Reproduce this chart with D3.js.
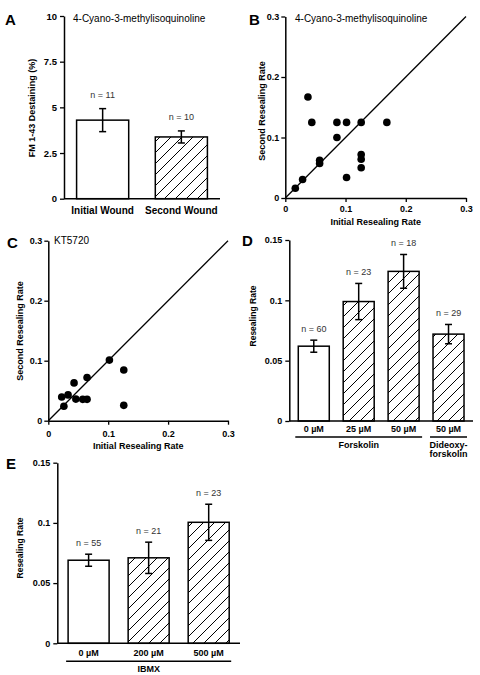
<!DOCTYPE html>
<html><head><meta charset="utf-8">
<script src="https://cdn.jsdelivr.net/npm/d3@7"></script>
<style>
body{margin:0;background:#fff;}
svg{display:block;font-family:"Liberation Sans",Arial,sans-serif;}
</style></head>
<body>
<svg id="chart" width="480" height="675"></svg>
<script>
// ---------- Data ----------
// Panel A
const aCategories = ["Initial Wound", "Second Wound"];
const aMeans = [4.3, 3.38];
const aErrors = [0.63, 0.33];
const aN = [11, 10];
const aHatched = [false, true];
const aTicks = [0, 2.5, 5, 7.5, 10];

// Panel B scatter
const bInitial = [0.0166, 0.0287, 0.0376, 0.044, 0.057, 0.057, 0.0857, 0.0857, 0.1017, 0.1017, 0.126, 0.126, 0.126, 0.126, 0.1686];
const bSecond  = [0.0162, 0.0306, 0.167, 0.125, 0.0625, 0.057, 0.125, 0.1, 0.125, 0.034, 0.125, 0.072, 0.064, 0.050, 0.125];
// Panel C scatter
const cInitial = [0.102, 0.126, 0.0647, 0.043, 0.0224, 0.033, 0.046, 0.0575, 0.0647, 0.026, 0.126];
const cSecond  = [0.101, 0.0845, 0.072, 0.063, 0.0395, 0.043, 0.036, 0.0356, 0.0356, 0.024, 0.0256];
const scatterTicks = [0, 0.1, 0.2, 0.3];

// Panel D
const dCategories = ["0 µM", "25 µM", "50 µM", "50 µM"];
const dMeans = [0.062, 0.099, 0.124, 0.072];
const dErrors = [0.005, 0.015, 0.014, 0.008];
const dN = [60, 23, 18, 29];
const dHatched = [false, true, true, true];
const dGroups = [{name: ["Forskolin"], from: 0, to: 2}, {name: ["Dideoxy-", "forskolin"], from: 3, to: 3}];

// Panel E
const eCategories = ["0 µM", "200 µM", "500 µM"];
const eMeans = [0.069, 0.071, 0.1005];
const eErrors = [0.005, 0.013, 0.015];
const eN = [55, 21, 23];
const eHatched = [false, true, true];
const eGroups = [{name: ["IBMX"], from: 0, to: 2}];

const rateTicks = [0, 0.05, 0.1, 0.15];

// ---------- Drawing ----------
const svg = d3.select("#chart");
const defs = svg.append("defs");
const pat = defs.append("pattern").attr("id", "hatch")
  .attr("patternUnits", "userSpaceOnUse").attr("width", 11).attr("height", 11);
pat.append("rect").attr("width", 11).attr("height", 11).attr("fill", "#fff");
pat.append("path").attr("d", "M-1,1 l2,-2 M0,11 l11,-11 M10,12 l2,-2")
  .attr("stroke", "#000").attr("stroke-width", 1);

const fmt = d3.format("~g");

function styleAxis(g, fs) {
  g.select(".domain").attr("stroke", "#000").attr("stroke-width", 1.5);
  g.selectAll(".tick line").attr("stroke", "#000").attr("stroke-width", 1.3);
  g.selectAll(".tick text").attr("fill", "#000").attr("font-size", fs)
    .attr("font-weight", "bold").attr("font-family", "Liberation Sans, Arial, sans-serif");
}

function panelLetter(t, x, y) {
  svg.append("text").attr("x", x).attr("y", y).text(t)
    .attr("font-size", 15).attr("font-weight", "bold");
}

function yLabel(t, x, y, fs) {
  svg.append("text").attr("transform", `translate(${x},${y}) rotate(-90)`)
    .attr("text-anchor", "middle").attr("dominant-baseline", "central")
    .attr("font-size", fs).attr("font-weight", "bold").text(t);
}

function barPanel(o) {
  const y = d3.scaleLinear().domain(o.domain).range([o.y0, o.y1]);
  const idx = d3.range(o.cats.length);
  const x = d3.scaleBand().domain(idx).range([o.x0, o.x1])
    .paddingInner(o.pi).paddingOuter(o.po);
  // bars
  const g = svg.append("g");
  g.selectAll("rect").data(idx).join("rect")
    .attr("x", i => x(i)).attr("width", x.bandwidth())
    .attr("y", i => y(o.means[i])).attr("height", i => y(0) - y(o.means[i]))
    .attr("fill", i => o.hatched[i] ? "url(#hatch)" : "#fff")
    .attr("stroke", "#000").attr("stroke-width", 1.5);
  // error bars
  const cw = 3.5;
  idx.forEach(i => {
    const cx = x(i) + x.bandwidth() / 2;
    const hi = y(o.means[i] + o.errs[i]), lo = y(o.means[i] - o.errs[i]);
    g.append("line").attr("x1", cx).attr("x2", cx).attr("y1", hi).attr("y2", lo)
      .attr("stroke", "#000").attr("stroke-width", 1.5);
    [hi, lo].forEach(v => g.append("line").attr("x1", cx - cw).attr("x2", cx + cw)
      .attr("y1", v).attr("y2", v).attr("stroke", "#000").attr("stroke-width", 1.5));
    g.append("text").attr("x", cx).attr("y", hi - o.nGap).attr("text-anchor", "middle")
      .attr("font-size", o.nfs).attr("fill", "#333").text("n = " + o.n[i]);
  });
  // axes
  const ya = svg.append("g").attr("transform", `translate(${o.x0},0)`)
    .call(d3.axisLeft(y).tickValues(o.ticks).tickFormat(fmt).tickSize(4).tickPadding(3).tickSizeOuter(0));
  styleAxis(ya, o.tfs);
  svg.append("line").attr("x1", o.x0).attr("x2", o.x1).attr("y1", y(0)).attr("y2", y(0))
    .attr("stroke", "#000").attr("stroke-width", 1.5);
  // category labels
  idx.forEach(i => {
    svg.append("text").attr("x", x(i) + x.bandwidth() / 2).attr("y", y(0) + o.catGap)
      .attr("text-anchor", "middle").attr("font-size", o.cfs).attr("font-weight", "bold")
      .text(o.cats[i]);
  });
  // groups
  (o.groups || []).forEach(gr => {
    const gx0 = x(gr.from) - o.gExt, gx1 = x(gr.to) + x.bandwidth() + o.gExt;
    const ly = y(0) + o.catGap + 5;
    svg.append("line").attr("x1", gx0).attr("x2", gx1).attr("y1", ly).attr("y2", ly)
      .attr("stroke", "#000").attr("stroke-width", 1.5);
    gr.name.forEach((t, k) => svg.append("text").attr("x", (gx0 + gx1) / 2)
      .attr("y", ly + 11 + k * 9).attr("text-anchor", "middle")
      .attr("font-size", o.cfs).attr("font-weight", "bold").text(t));
  });
  return {x, y};
}

function scatterPanel(o) {
  const x = d3.scaleLinear().domain([0, 0.3]).range([o.x0, o.x1]);
  const y = d3.scaleLinear().domain([0, 0.3]).range([o.y0, o.y1]);
  svg.append("line").attr("x1", x(0)).attr("y1", y(0)).attr("x2", x(0.3)).attr("y2", y(0.3))
    .attr("stroke", "#000").attr("stroke-width", 1.3);
  svg.append("g").selectAll("circle").data(d3.range(o.xs.length)).join("circle")
    .attr("cx", i => x(o.xs[i])).attr("cy", i => y(o.ys[i])).attr("r", 3.8).attr("fill", "#000");
  const xa = svg.append("g").attr("transform", `translate(0,${o.y0})`)
    .call(d3.axisBottom(x).tickValues(scatterTicks).tickFormat(fmt).tickSize(4).tickPadding(o.xpad).tickSizeOuter(0));
  styleAxis(xa, 9);
  const ya = svg.append("g").attr("transform", `translate(${o.x0},0)`)
    .call(d3.axisLeft(y).tickValues(scatterTicks).tickFormat(fmt).tickSize(4).tickPadding(2).tickSizeOuter(0));
  styleAxis(ya, 9);
  svg.append("text").attr("x", (o.x0 + o.x1) / 2).attr("y", o.xlY)
    .attr("text-anchor", "middle").attr("font-size", 9).attr("font-weight", "bold")
    .text("Initial Resealing Rate");
  yLabel("Second Resealing Rate", o.ylX, o.ylY, 9);
  svg.append("text").attr("x", o.tX).attr("y", o.tY).attr("font-size", 10).text(o.title);
}

// Panel A
panelLetter("A", 5, 25);
barPanel({domain: [0, 10], y0: 198.7, y1: 16, x0: 64, x1: 220, pi: 0.338, po: 0.16,
  cats: aCategories, means: aMeans, errs: aErrors, n: aN, hatched: aHatched, ticks: aTicks,
  nGap: 11, nfs: 9, tfs: 9.5, cfs: 10, catGap: 15});
yLabel("FM 1-43 Destaining (%)", 32, 108, 9);
svg.append("text").attr("x", 73).attr("y", 22).attr("font-size", 10).text("4-Cyano-3-methylisoquinoline");

// Panel B
panelLetter("B", 249, 25);
scatterPanel({xs: bInitial, ys: bSecond, x0: 285.3, x1: 466, y0: 198, y1: 16.5,
  xpad: 4, xlY: 225, ylX: 262, ylY: 111, tX: 295, tY: 22, title: "4-Cyano-3-methylisoquinoline"});

// Panel C
panelLetter("C", 7, 248);
scatterPanel({xs: cInitial, ys: cSecond, x0: 48.3, x1: 228, y0: 420.7, y1: 240.7,
  xpad: 6, xlY: 449, ylX: 20, ylY: 331, tX: 54, tY: 244, title: "KT5720"});

// Panel D
panelLetter("D", 242, 246);
barPanel({domain: [0, 0.15], y0: 421, y1: 240, x0: 289.3, x1: 473, pi: 0.31, po: 0.2,
  cats: dCategories, means: dMeans, errs: dErrors, n: dN, hatched: dHatched, ticks: rateTicks,
  nGap: 8, nfs: 9, tfs: 9, cfs: 9, catGap: 11, groups: dGroups, gExt: 3});
yLabel("Resealing Rate", 253, 316, 8.5);

// Panel E
panelLetter("E", 6, 469);
barPanel({domain: [0, 0.15], y0: 643.3, y1: 462.7, x0: 57.3, x1: 240, pi: 0.317, po: 0.18,
  cats: eCategories, means: eMeans, errs: eErrors, n: eN, hatched: eHatched, ticks: rateTicks,
  nGap: 8, nfs: 9, tfs: 9, cfs: 9, catGap: 13, groups: eGroups, gExt: 2});
yLabel("Resealing Rate", 20, 548, 8.5);
</script>
</body></html>
